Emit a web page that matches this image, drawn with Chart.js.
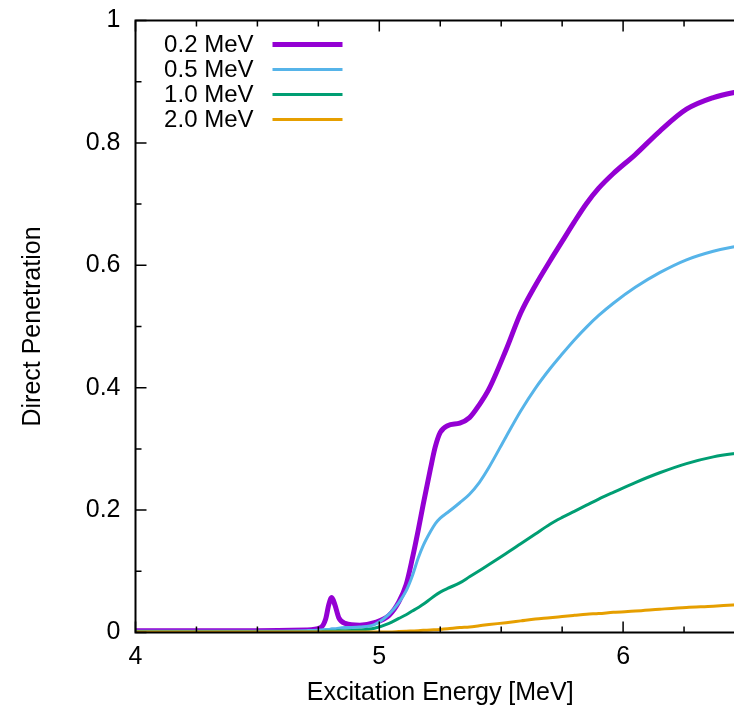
<!DOCTYPE html>
<html>
<head>
<meta charset="utf-8">
<title>Direct Penetration</title>
<script src="https://cdn.jsdelivr.net/npm/chart.js@4.4.1/dist/chart.umd.min.js"></script>
<style>
  html, body { margin: 0; padding: 0; background: #fff; overflow: hidden; }
  #wrap { width: 760px; height: 710px; }
</style>
</head>
<body>
<div id="wrap"><canvas id="penChart" width="760" height="710"></canvas></div>
<script>
// excitation energy grid [MeV]
var energies = [4.0, 4.5, 4.7, 4.76, 4.78, 4.793, 4.805, 4.818, 4.834, 4.86, 4.92, 4.98,
    5.04, 5.08, 5.11, 5.135, 5.16, 5.18, 5.21, 5.23, 5.25, 5.28, 5.33, 5.37, 5.41, 5.45,
    5.52, 5.58, 5.64, 5.70, 5.75, 5.80, 5.85, 5.90, 5.96, 6.05, 6.15, 6.26, 6.37, 6.45, 6.5];

// direct penetration for each neutron energy
var pen02 = [0.003, 0.003, 0.004, 0.008, 0.022, 0.046, 0.057, 0.045, 0.024, 0.015, 0.012, 0.016,
    0.028, 0.050, 0.078, 0.120, 0.168, 0.209, 0.268, 0.304, 0.327, 0.338, 0.342, 0.351, 0.372, 0.398,
    0.462, 0.522, 0.567, 0.607, 0.639, 0.671, 0.701, 0.726, 0.750, 0.781, 0.819, 0.855, 0.874, 0.882, 0.885];
var pen05 = [0.002, 0.002, 0.003, 0.004, 0.005, 0.005, 0.006, 0.006, 0.007, 0.008, 0.009, 0.013,
    0.030, 0.049, 0.068, 0.092, 0.122, 0.142, 0.165, 0.178, 0.187, 0.196, 0.212, 0.226, 0.245, 0.270,
    0.320, 0.362, 0.399, 0.431, 0.455, 0.478, 0.499, 0.518, 0.538, 0.564, 0.588, 0.609, 0.623, 0.630, 0.633];
var pen10 = [0.001, 0.001, 0.001, 0.001, 0.002, 0.002, 0.002, 0.002, 0.003, 0.003, 0.004, 0.007,
    0.015, 0.023, 0.029, 0.035, 0.041, 0.046, 0.055, 0.061, 0.066, 0.072, 0.081, 0.091, 0.101, 0.111,
    0.129, 0.145, 0.161, 0.177, 0.188, 0.198, 0.208, 0.218, 0.229, 0.245, 0.261, 0.276, 0.287, 0.292, 0.294];
var pen20 = [0.001, 0.001, 0.001, 0.001, 0.001, 0.001, 0.001, 0.001, 0.001, 0.001, 0.001, 0.001,
    0.001, 0.0015, 0.002, 0.0025, 0.003, 0.0035, 0.004, 0.0045, 0.005, 0.006, 0.008, 0.009, 0.011, 0.013,
    0.016, 0.019, 0.022, 0.024, 0.026, 0.028, 0.030, 0.031, 0.033, 0.035, 0.038, 0.041, 0.043, 0.045, 0.046];

var seriesLabels = ["0.2 MeV", "0.5 MeV", "1.0 MeV", "2.0 MeV"];
var xTickValues = [4, 5, 6];
var yTickValues = [0, 0.2, 0.4, 0.6, 0.8, 1];

var FONT = "'Liberation Sans', Arial, sans-serif";

function toPoints(vals) {
    return energies.map(function (e, i) { return { x: e, y: vals[i] }; });
}

// gnuplot style border with inward ticks on all four sides
var framePlugin = {
    id: "frame",
    afterDatasetsDraw: function (chart) {
        var ctx = chart.ctx, a = chart.chartArea;
        var xs = chart.scales.x, ys = chart.scales.y;
        ctx.save();
        ctx.strokeStyle = "#000";
        ctx.lineWidth = 1.5;
        ctx.beginPath();
        for (var v = xs.min; v <= xs.max + 1e-9; v += 0.25) {
            var px = xs.getPixelForValue(v);
            var len = Math.abs(v - Math.round(v)) < 1e-6 ? 11 : 6;
            ctx.moveTo(px, a.bottom); ctx.lineTo(px, a.bottom - len);
            ctx.moveTo(px, a.top); ctx.lineTo(px, a.top + len);
        }
        for (var k = 0; k <= 10; k++) {
            var py = ys.getPixelForValue(k / 10);
            var l = k % 2 === 0 ? 11 : 6;
            ctx.moveTo(a.left, py); ctx.lineTo(a.left + l, py);
            ctx.moveTo(a.right, py); ctx.lineTo(a.right - l, py);
        }
        ctx.stroke();
        ctx.lineWidth = 2;
        ctx.strokeRect(a.left, a.top, a.right - a.left, a.bottom - a.top);
        ctx.restore();
    },
    afterDraw: function (chart) {
        // key: label right-aligned, line sample to its right
        var ctx = chart.ctx, a = chart.chartArea;
        ctx.save();
        ctx.font = "24px " + FONT;
        ctx.textAlign = "right";
        ctx.textBaseline = "middle";
        chart.data.datasets.forEach(function (ds, i) {
            var yy = a.top + 24 + i * 25;
            ctx.fillStyle = "#000";
            ctx.fillText(ds.label, a.left + 118, yy + 1);
            ctx.strokeStyle = ds.borderColor;
            ctx.lineWidth = ds.borderWidth;
            ctx.beginPath();
            ctx.moveTo(a.left + 137, yy);
            ctx.lineTo(a.left + 207, yy);
            ctx.stroke();
        });
        ctx.restore();
    }
};

var ctx = document.getElementById("penChart").getContext("2d");
window.penChart = new Chart(ctx, {
    type: "line",
    data: {
        datasets: [
            { label: seriesLabels[0], data: toPoints(pen02), borderColor: "#9400d3", borderWidth: 5, order: 3 },
            { label: seriesLabels[1], data: toPoints(pen05), borderColor: "#56b4e9", borderWidth: 3, order: 2 },
            { label: seriesLabels[2], data: toPoints(pen10), borderColor: "#009e73", borderWidth: 3, order: 1 },
            { label: seriesLabels[3], data: toPoints(pen20), borderColor: "#e69f00", borderWidth: 3, order: 0 }
        ]
    },
    options: {
        responsive: false,
        animation: false,
        devicePixelRatio: 1,
        elements: {
            point: { radius: 0 },
            line: { cubicInterpolationMode: "monotone", fill: false }
        },
        layout: { padding: { top: 20.5, right: 15, left: 0, bottom: 0 } },
        plugins: { legend: { display: false }, tooltip: { enabled: false } },
        scales: {
            x: {
                type: "linear",
                min: 4,
                max: 6.5,
                grid: { display: false, drawTicks: false },
                border: { display: false },
                afterBuildTicks: function (s) {
                    s.ticks = xTickValues.map(function (v) { return { value: v }; });
                },
                afterFit: function (s) {
                    s.height = 77.5;
                    s.paddingLeft = 0; s.paddingRight = 0;
                },
                ticks: {
                    color: "#000", padding: 10, maxRotation: 0,
                    font: { family: FONT, size: 25 },
                    callback: function (v) { return String(v); }
                },
                title: {
                    display: true,
                    text: "Excitation Energy [MeV]",
                    color: "#000",
                    padding: { top: 0, bottom: 2 },
                    font: { family: FONT, size: 25 }
                }
            },
            y: {
                min: 0,
                max: 1,
                grid: { display: false, drawTicks: false },
                border: { display: false },
                afterBuildTicks: function (s) {
                    s.ticks = yTickValues.map(function (v) { return { value: v }; });
                },
                afterFit: function (s) {
                    s.width = 135.5;
                    s.paddingTop = 0; s.paddingBottom = 0;
                },
                ticks: {
                    color: "#000", padding: 15,
                    font: { family: FONT, size: 25 },
                    callback: function (v) { return String(v); }
                },
                title: {
                    display: true,
                    text: "Direct Penetration",
                    color: "#000",
                    padding: { top: 18, bottom: 0 },
                    font: { family: FONT, size: 25 }
                }
            }
        }
    },
    plugins: [framePlugin]
});
</script>
</body>
</html>
